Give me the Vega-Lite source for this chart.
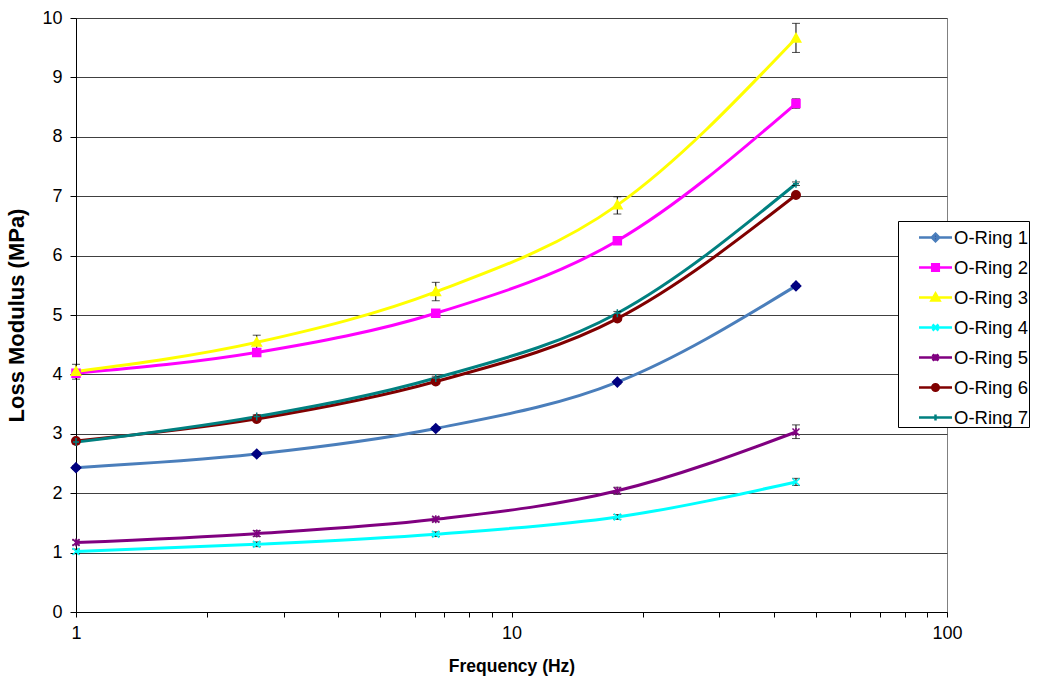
{
  "$schema": "https://vega.github.io/schema/vega-lite/v6.json",
  "width": 871,
  "height": 594,
  "autosize": {"type": "none"},
  "padding": {"left": 76, "top": 18, "right": 92, "bottom": 70},
  "background": "white",
  "config": {
    "font": "Liberation Sans",
    "view": {"stroke": "#808080", "strokeWidth": 1},
    "axis": {
      "labelFont": "Liberation Sans",
      "labelFontSize": 18,
      "labelColor": "#000000",
      "titleFont": "Liberation Sans",
      "titleFontWeight": "bold",
      "titleColor": "#000000",
      "domainColor": "#000000",
      "tickColor": "#000000",
      "domainWidth": 1,
      "tickWidth": 1
    }
  },
  "data": {
    "values": [
      {"ring": "O-Ring 1", "freq": 1, "mod": 2.43, "lo": 2.40, "hi": 2.46},
      {"ring": "O-Ring 1", "freq": 2.6, "mod": 2.66, "lo": 2.63, "hi": 2.69},
      {"ring": "O-Ring 1", "freq": 6.7, "mod": 3.09, "lo": 3.06, "hi": 3.12},
      {"ring": "O-Ring 1", "freq": 17.5, "mod": 3.87, "lo": 3.84, "hi": 3.90},
      {"ring": "O-Ring 1", "freq": 45, "mod": 5.49, "lo": 5.46, "hi": 5.52},
      {"ring": "O-Ring 2", "freq": 1, "mod": 4.02, "lo": 3.97, "hi": 4.07},
      {"ring": "O-Ring 2", "freq": 2.6, "mod": 4.37, "lo": 4.33, "hi": 4.41},
      {"ring": "O-Ring 2", "freq": 6.7, "mod": 5.03, "lo": 4.99, "hi": 5.07},
      {"ring": "O-Ring 2", "freq": 17.5, "mod": 6.25, "lo": 6.21, "hi": 6.29},
      {"ring": "O-Ring 2", "freq": 45, "mod": 8.56, "lo": 8.48, "hi": 8.64},
      {"ring": "O-Ring 3", "freq": 1, "mod": 4.05, "lo": 3.92, "hi": 4.17},
      {"ring": "O-Ring 3", "freq": 2.6, "mod": 4.54, "lo": 4.42, "hi": 4.66},
      {"ring": "O-Ring 3", "freq": 6.7, "mod": 5.39, "lo": 5.24, "hi": 5.55},
      {"ring": "O-Ring 3", "freq": 17.5, "mod": 6.85, "lo": 6.70, "hi": 6.99},
      {"ring": "O-Ring 3", "freq": 45, "mod": 9.66, "lo": 9.42, "hi": 9.91},
      {"ring": "O-Ring 4", "freq": 1, "mod": 1.02, "lo": 0.98, "hi": 1.06},
      {"ring": "O-Ring 4", "freq": 2.6, "mod": 1.14, "lo": 1.10, "hi": 1.18},
      {"ring": "O-Ring 4", "freq": 6.7, "mod": 1.31, "lo": 1.27, "hi": 1.35},
      {"ring": "O-Ring 4", "freq": 17.5, "mod": 1.60, "lo": 1.56, "hi": 1.64},
      {"ring": "O-Ring 4", "freq": 45, "mod": 2.19, "lo": 2.13, "hi": 2.25},
      {"ring": "O-Ring 5", "freq": 1, "mod": 1.17, "lo": 1.13, "hi": 1.21},
      {"ring": "O-Ring 5", "freq": 2.6, "mod": 1.32, "lo": 1.27, "hi": 1.37},
      {"ring": "O-Ring 5", "freq": 6.7, "mod": 1.56, "lo": 1.52, "hi": 1.60},
      {"ring": "O-Ring 5", "freq": 17.5, "mod": 2.04, "lo": 1.98, "hi": 2.10},
      {"ring": "O-Ring 5", "freq": 45, "mod": 3.03, "lo": 2.92, "hi": 3.15},
      {"ring": "O-Ring 6", "freq": 1, "mod": 2.88, "lo": 2.85, "hi": 2.91},
      {"ring": "O-Ring 6", "freq": 2.6, "mod": 3.25, "lo": 3.22, "hi": 3.28},
      {"ring": "O-Ring 6", "freq": 6.7, "mod": 3.88, "lo": 3.85, "hi": 3.91},
      {"ring": "O-Ring 6", "freq": 17.5, "mod": 4.94, "lo": 4.91, "hi": 4.97},
      {"ring": "O-Ring 6", "freq": 45, "mod": 7.02, "lo": 6.99, "hi": 7.05},
      {"ring": "O-Ring 7", "freq": 1, "mod": 2.86, "lo": 2.83, "hi": 2.89},
      {"ring": "O-Ring 7", "freq": 2.6, "mod": 3.29, "lo": 3.26, "hi": 3.32},
      {"ring": "O-Ring 7", "freq": 6.7, "mod": 3.94, "lo": 3.91, "hi": 3.97},
      {"ring": "O-Ring 7", "freq": 17.5, "mod": 5.03, "lo": 5.00, "hi": 5.06},
      {"ring": "O-Ring 7", "freq": 45, "mod": 7.21, "lo": 7.18, "hi": 7.24}
    ]
  },
  "resolve": {"scale": {"shape": "independent", "fill": "independent", "stroke": "independent"}},
  "layer": [
    {
      "mark": {"type": "line", "interpolate": "monotone", "strokeWidth": 3},
      "encoding": {
        "x": {
          "field": "freq", "type": "quantitative",
          "scale": {"type": "log", "domain": [1, 100], "nice": false},
          "axis": {
            "title": "Frequency (Hz)",
            "titleFontSize": 17.5,
            "values": [1, 2, 3, 4, 5, 6, 7, 8, 9, 10, 20, 30, 40, 50, 60, 70, 80, 90, 100],
            "labelExpr": "indexof([1, 10, 100], datum.value) >= 0 ? datum.label : ''",
            "format": "d",
            "grid": false,
            "tickSize": 5,
            "labelPadding": 7,
            "titlePadding": 15,
            "labelFlush": false,
            "labelOverlap": false
          }
        },
        "y": {
          "field": "mod", "type": "quantitative",
          "scale": {"domain": [0, 10], "nice": false, "zero": true},
          "axis": {
            "title": "Loss Modulus (MPa)",
            "titleFontSize": 22,
            "values": [0, 1, 2, 3, 4, 5, 6, 7, 8, 9, 10],
            "format": "d",
            "grid": true,
            "gridColor": "#404040",
            "gridWidth": 1,
            "tickSize": 6,
            "labelPadding": 8,
            "titlePadding": 13,
            "labelFlush": false
          }
        },
        "color": {
          "field": "ring", "type": "nominal",
          "scale": {
            "domain": ["O-Ring 1", "O-Ring 2", "O-Ring 3", "O-Ring 4", "O-Ring 5", "O-Ring 6", "O-Ring 7"],
            "range": ["#4A7EBB", "#FF00FF", "#FFFF00", "#00FFFF", "#800080", "#800000", "#008080"]
          },
          "legend": null
        }
      }
    },
    {
      "mark": {"type": "rule", "color": "#000000", "strokeWidth": 1},
      "encoding": {
        "x": {"field": "freq", "type": "quantitative"},
        "y": {"field": "lo", "type": "quantitative"},
        "y2": {"field": "hi"}
      }
    },
    {
      "mark": {"type": "tick", "orient": "horizontal", "color": "#000000", "size": 8, "thickness": 1},
      "encoding": {
        "x": {"field": "freq", "type": "quantitative"},
        "y": {"field": "lo", "type": "quantitative"}
      }
    },
    {
      "mark": {"type": "tick", "orient": "horizontal", "color": "#000000", "size": 8, "thickness": 1},
      "encoding": {
        "x": {"field": "freq", "type": "quantitative"},
        "y": {"field": "hi", "type": "quantitative"}
      }
    },
    {
      "mark": {"type": "point", "filled": true, "size": 100, "strokeWidth": 1.5, "opacity": 1},
      "encoding": {
        "x": {"field": "freq", "type": "quantitative"},
        "y": {"field": "mod", "type": "quantitative"},
        "shape": {
          "field": "ring", "type": "nominal",
          "scale": {
            "domain": ["O-Ring 1", "O-Ring 2", "O-Ring 3", "O-Ring 4", "O-Ring 5", "O-Ring 6", "O-Ring 7"],
            "range": [
              "M0,-0.95L0.95,0L0,0.95L-0.95,0Z",
              "M-0.8,-0.8H0.8V0.8H-0.8Z",
              "M0,-0.95L0.95,0.75H-0.95Z",
              "M-0.7,-0.7L0.7,0.7M-0.7,0.7L0.7,-0.7",
              "M-0.7,-0.7L0.7,0.7M-0.7,0.7L0.7,-0.7M0,-0.8V0.8",
              "M-0.85,0A0.85,0.85 0 1,0 0.85,0A0.85,0.85 0 1,0 -0.85,0Z",
              "M-0.6,0H0.6M0,-0.8V0.8"
            ]
          },
          "legend": null
        },
        "fill": {
          "field": "ring", "type": "nominal",
          "scale": {
            "domain": ["O-Ring 1", "O-Ring 2", "O-Ring 3", "O-Ring 4", "O-Ring 5", "O-Ring 6", "O-Ring 7"],
            "range": ["#000080", "#FF00FF", "#FFFF00", "#00FFFF", "#800080", "#800000", "#008080"]
          },
          "legend": null
        },
        "stroke": {
          "field": "ring", "type": "nominal",
          "scale": {
            "domain": ["O-Ring 1", "O-Ring 2", "O-Ring 3", "O-Ring 4", "O-Ring 5", "O-Ring 6", "O-Ring 7"],
            "range": ["#000080", "#FF00FF", "#FFFF00", "#00FFFF", "#800080", "#800000", "#008080"]
          },
          "legend": null
        }
      }
    },
    {
      "transform": [{"filter": "datum.mod < 0"}],
      "mark": {"type": "point", "filled": true, "size": 900, "strokeWidth": 2.5, "opacity": 1},
      "encoding": {
        "x": {"field": "freq", "type": "quantitative"},
        "y": {"field": "mod", "type": "quantitative"},
        "shape": {
          "field": "ring", "type": "nominal",
          "scale": {
            "domain": ["O-Ring 1", "O-Ring 2", "O-Ring 3", "O-Ring 4", "O-Ring 5", "O-Ring 6", "O-Ring 7"],
            "range": [
              "M-1.1,0H1.1M0,-0.25L0.25,0L0,0.25L-0.25,0Z",
              "M-1.1,0H1.1M-0.22,-0.22H0.22V0.22H-0.22Z",
              "M-1.1,0H1.1M0,-0.27L0.27,0.2H-0.27Z",
              "M-1.1,0H1.1M-0.2,-0.2L0.2,0.2M-0.2,0.2L0.2,-0.2",
              "M-1.1,0H1.1M-0.2,-0.2L0.2,0.2M-0.2,0.2L0.2,-0.2M0,-0.22V0.22",
              "M-1.1,0H1.1M-0.22,0A0.22,0.22 0 1,0 0.22,0A0.22,0.22 0 1,0 -0.22,0Z",
              "M-1.1,0H1.1M0,-0.2V0.2"
            ]
          },
          "legend": {
            "orient": "none",
            "legendX": 822,
            "legendY": 203,
            "title": null,
            "strokeColor": "#000000",
            "fillColor": "#FFFFFF",
            "padding": 0,
            "symbolOffset": 21,
            "symbolSize": 900,
            "symbolStrokeWidth": 2.5,
            "labelFont": "Liberation Sans",
            "labelFontSize": 18.5,
            "labelColor": "#000000",
            "labelOffset": 2,
            "rowPadding": 4,
            "labelExpr": "datum.label + '\u00a0\u00a0\u00a0\u00a0\u00a0\u00a0'"
          }
        },
        "fill": {
          "field": "ring", "type": "nominal",
          "scale": {
            "domain": ["O-Ring 1", "O-Ring 2", "O-Ring 3", "O-Ring 4", "O-Ring 5", "O-Ring 6", "O-Ring 7"],
            "range": ["#000080", "#FF00FF", "#FFFF00", "#00FFFF", "#800080", "#800000", "#008080"]
          },
          "legend": {
            "orient": "none",
            "legendX": 822,
            "legendY": 203,
            "title": null,
            "strokeColor": "#000000",
            "fillColor": "#FFFFFF",
            "padding": 0,
            "symbolOffset": 21,
            "symbolSize": 900,
            "symbolStrokeWidth": 2.5,
            "labelFont": "Liberation Sans",
            "labelFontSize": 18.5,
            "labelColor": "#000000",
            "labelOffset": 2,
            "rowPadding": 4,
            "labelExpr": "datum.label + '\u00a0\u00a0\u00a0\u00a0\u00a0\u00a0'"
          }
        },
        "stroke": {
          "field": "ring", "type": "nominal",
          "scale": {
            "domain": ["O-Ring 1", "O-Ring 2", "O-Ring 3", "O-Ring 4", "O-Ring 5", "O-Ring 6", "O-Ring 7"],
            "range": ["#4A7EBB", "#FF00FF", "#FFFF00", "#00FFFF", "#800080", "#800000", "#008080"]
          },
          "legend": {
            "orient": "none",
            "legendX": 822,
            "legendY": 203,
            "title": null,
            "strokeColor": "#000000",
            "fillColor": "#FFFFFF",
            "padding": 0,
            "symbolOffset": 21,
            "symbolSize": 900,
            "symbolStrokeWidth": 2.5,
            "labelFont": "Liberation Sans",
            "labelFontSize": 18.5,
            "labelColor": "#000000",
            "labelOffset": 2,
            "rowPadding": 4,
            "labelExpr": "datum.label + '\u00a0\u00a0\u00a0\u00a0\u00a0\u00a0'"
          }
        }
      }
    }
  ]
}
